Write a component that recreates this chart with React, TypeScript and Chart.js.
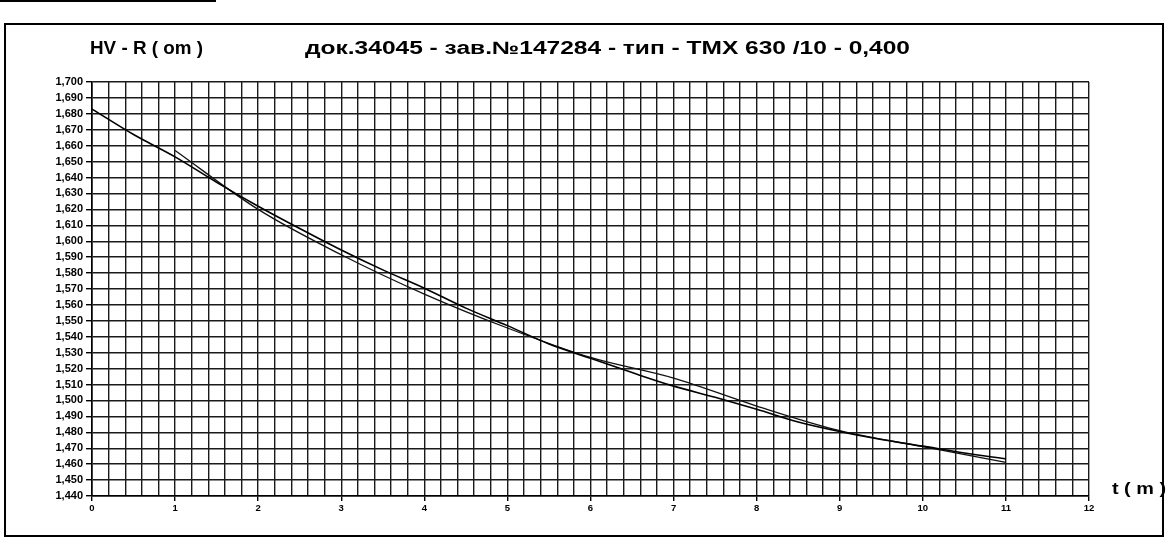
import React, { useEffect, useRef } from 'react';
import { Chart, registerables } from 'chart.js';

Chart.register(...registerables);

// ---- text ----
const TITLE_LEFT = 'HV - R ( om )';
const TITLE_MAIN = 'док.34045 - зав.№147284 - тип - ТМХ 630 /10 - 0,400';
const X_AXIS_TITLE = 't ( m )';

// ---- axes ----
const T_MIN = 0;
const T_MAX = 12;
const T_STEP = 0.2;
const R_MIN = 1.44;
const R_MAX = 1.7;
const R_STEP = 0.01;

// ---- series: smooth trend curve (from t = 0) ----
const trendT = [0, 0.5, 1, 1.5, 2, 2.5, 3, 3.5, 4, 4.5, 5, 5.5, 6, 6.5, 7, 7.5, 8, 8.5, 9, 9.5, 10, 10.5, 11];
const trendR = [1.683, 1.667, 1.653, 1.637, 1.622, 1.608, 1.5945, 1.582, 1.5705, 1.558, 1.547, 1.5355, 1.5265, 1.5175, 1.509, 1.502, 1.4945, 1.4865, 1.4805, 1.4755, 1.4713, 1.467, 1.4633];

// ---- series: measured curve (from t = 1) ----
const measT = [1, 2, 3, 4, 5, 6, 7, 8, 9, 10, 11];
const measR = [1.657, 1.62, 1.5915, 1.5668, 1.5455, 1.527, 1.514, 1.4965, 1.481, 1.471, 1.4611];

const FONT = '"Liberation Sans", Arial, Helvetica, sans-serif';

const isInt = (v: number) => Math.abs(v - Math.round(v)) < 1e-6;

function drawFit(ctx: CanvasRenderingContext2D, text: string, x: number, baseline: number, targetW: number) {
  const w = ctx.measureText(text).width;
  ctx.save();
  ctx.translate(x, baseline);
  ctx.scale(targetW / w, 1);
  ctx.fillText(text, 0, 0);
  ctx.restore();
}

const decorPlugin = {
  id: 'decor',
  beforeDraw(chart: any) {
    const ctx = chart.ctx as CanvasRenderingContext2D;
    ctx.save();
    ctx.fillStyle = '#fff';
    ctx.fillRect(0, 0, chart.width, chart.height);
    ctx.restore();
  },
  afterDraw(chart: any) {
    const ctx = chart.ctx as CanvasRenderingContext2D;
    ctx.save();
    // outer frame
    ctx.strokeStyle = '#000';
    ctx.lineWidth = 2;
    ctx.strokeRect(5, 24, 1158, 512);
    // scan edge line at top
    ctx.fillStyle = '#000';
    ctx.fillRect(0, 0, 216, 2);
    // titles
    ctx.fillStyle = '#000';
    ctx.textBaseline = 'alphabetic';
    ctx.textAlign = 'left';
    ctx.font = `bold 18px ${FONT}`;
    drawFit(ctx, TITLE_LEFT, 90, 54, 113);
    drawFit(ctx, TITLE_MAIN, 305, 54, 605);
    ctx.font = `bold 16px ${FONT}`;
    drawFit(ctx, X_AXIS_TITLE, 1112, 494, 54);
    ctx.restore();
  },
};

export default function App() {
  const ref = useRef<HTMLCanvasElement | null>(null);

  useEffect(() => {
    if (!ref.current) return;
    const chart = new Chart(ref.current, {
      type: 'line',
      data: {
        datasets: [
          {
            label: 'trend',
            data: trendT.map((t, i) => ({ x: t, y: trendR[i] })),
            borderColor: '#000',
            borderWidth: 1.6,
            pointRadius: 0,
            tension: 0.4,
            cubicInterpolationMode: 'monotone',
            fill: false,
          },
          {
            label: 'measured',
            data: measT.map((t, i) => ({ x: t, y: measR[i] })),
            borderColor: '#111',
            borderWidth: 1.3,
            pointRadius: 0,
            tension: 0.4,
            cubicInterpolationMode: 'monotone',
            fill: false,
          },
        ],
      },
      options: {
        responsive: false,
        animation: false,
        events: [],
        layout: { padding: { left: 0, top: 82, right: 79, bottom: 0 } },
        plugins: {
          legend: { display: false },
          title: { display: false },
          tooltip: { enabled: false },
        },
        scales: {
          x: {
            type: 'linear',
            min: T_MIN,
            max: T_MAX,
            afterFit: (s: any) => {
              s.height = 46;
            },
            ticks: {
              stepSize: T_STEP,
              autoSkip: false,
              maxRotation: 0,
              padding: 2,
              color: '#000',
              font: { family: FONT, size: 9.5, weight: 'bold' },
              callback: (v: any) => (isInt(Number(v)) ? String(Math.round(Number(v))) : ''),
            },
            grid: {
              color: '#1a1a1a',
              lineWidth: 1.4,
              tickLength: 5,
              tickColor: (c: any) => (c.tick && isInt(c.tick.value) ? '#000' : 'rgba(0,0,0,0)'),
            },
            border: { display: true, color: '#000', width: 1.6 },
          },
          y: {
            type: 'linear',
            min: R_MIN,
            max: R_MAX,
            afterFit: (s: any) => {
              s.width = 92;
            },
            ticks: {
              stepSize: R_STEP,
              autoSkip: false,
              padding: 3,
              color: '#000',
              font: { family: FONT, size: 11, weight: 'bold' },
              callback: (v: any) => Number(v).toFixed(3).replace('.', ','),
            },
            grid: {
              color: '#1a1a1a',
              lineWidth: 1.4,
              tickLength: 6,
              tickColor: '#000',
            },
            border: { display: true, color: '#000', width: 1.6 },
          },
        },
      } as any,
      plugins: [decorPlugin],
    });
    return () => chart.destroy();
  }, []);

  return (
    <div style={{ position: 'absolute', left: 0, top: 0, width: 1168, height: 542, background: '#fff' }}>
      <canvas ref={ref} width={1168} height={542} style={{ display: 'block' }} />
    </div>
  );
}
